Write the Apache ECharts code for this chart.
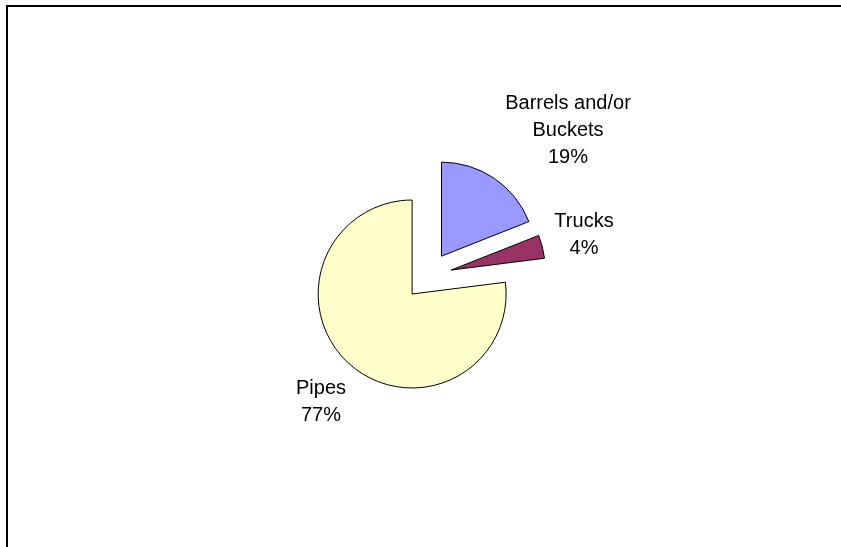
<!DOCTYPE html>
<html>
<head>
<meta charset="utf-8">
<script src="https://cdn.jsdelivr.net/npm/echarts@6/dist/echarts.min.js"></script>
<style>
  html, body { margin: 0; padding: 0; background: #fff; }
  #chart { width: 841px; height: 547px; }
</style>
</head>
<body>
<div id="chart"></div>
<script>
const names = ['Barrels and/or\nBuckets', 'Trucks', 'Pipes'];
const values = [19, 4, 77];
const colors = ['#9999FF', '#993366', '#FFFFCC'];

// where each label block sits (centre)
const labelPos = [[568, 130], [584, 235], [321, 402]];

const total = values.reduce((a, b) => a + b, 0);

const chart = echarts.init(document.getElementById('chart'));

const labels = names.map((n, i) => ({
  type: 'text',
  x: labelPos[i][0],
  y: labelPos[i][1],
  silent: true,
  style: {
    text: n + '\n' + Math.round((values[i] / total) * 100) + '%',
    fontFamily: 'Liberation Sans, Arial, sans-serif',
    fontSize: 20,
    lineHeight: 27,
    fill: '#000',
    align: 'center',
    verticalAlign: 'middle',
  },
}));

const option = {
  animation: false,
  graphic: [
    {
      type: 'rect',
      shape: { x: 7, y: 6, width: 1000, height: 1000 },
      style: { fill: 'none', stroke: '#000', lineWidth: 2 },
      silent: true,
    },
    ...labels,
  ],
  series: [
    {
      type: 'pie',
      center: [428, 276],
      radius: 94,
      startAngle: 90,
      clockwise: true,
      selectedMode: 'multiple',
      selectedOffset: 24,
      emphasis: { disabled: true },
      itemStyle: { borderColor: '#000', borderWidth: 1 },
      label: { show: false },
      labelLine: { show: false },
      data: names.map((n, i) => ({
        name: n,
        value: values[i],
        selected: true,
        itemStyle: { color: colors[i] },
      })),
    },
  ],
};

chart.setOption(option);
</script>
</body>
</html>
